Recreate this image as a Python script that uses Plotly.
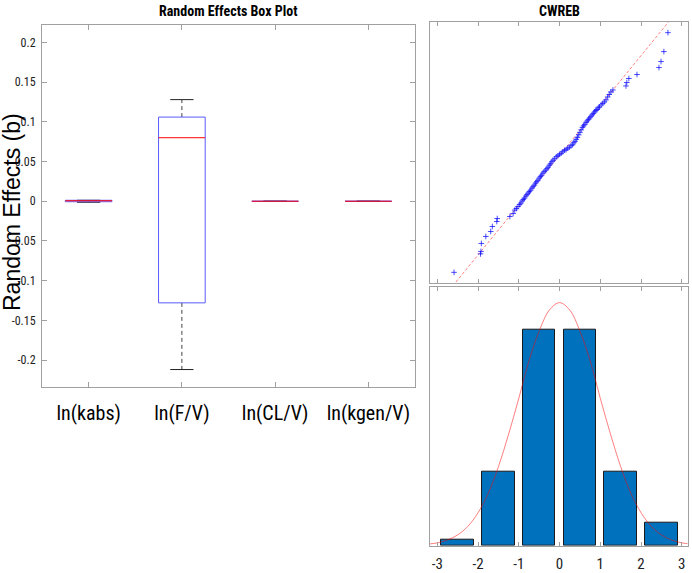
import plotly.graph_objects as go

# box plot summary values
categories = ["ln(kabs)", "ln(F/V)", "ln(CL/V)", "ln(kgen/V)"]
q1 = [-0.0006, -0.128, 0.0, 0.0]
median = [0.0006, 0.080, 0.0, 0.0]
q3 = [0.0012, 0.106, 0.0, 0.0]
whisker_lo = [-0.0013, -0.212, 0.0, 0.0]
whisker_hi = [0.0012, 0.128, 0.0, 0.0]

box_ticks = [-0.2, -0.15, -0.1, -0.05, 0, 0.05, 0.1, 0.15, 0.2]
box_ticktext = ["-0.2", "-0.15", "-0.1", "-0.05", "0", "0.05", "0.1", "0.15", "0.2"]

# CWREB quantile plot points
qq_x = [-2.59, -1.94, -1.93, -1.92, -1.81, -1.69, -1.65, -1.54, -1.53,
        -1.22, -1.14, -1.10, -1.06,
        -1.02, -0.98, -0.95, -0.92, -0.89, -0.86, -0.83, -0.80, -0.77, -0.74, -0.71,
        -0.68, -0.65, -0.62, -0.59, -0.56, -0.53, -0.50, -0.47, -0.44, -0.41, -0.38,
        -0.34, -0.31, -0.28, -0.25, -0.22, -0.19, -0.16, -0.12, -0.08, -0.04, 0.0,
        0.04, 0.08, 0.12, 0.16, 0.20, 0.24, 0.28, 0.32,
        0.35, 0.38, 0.41, 0.44, 0.47, 0.50, 0.53,
        0.56, 0.59, 0.62, 0.65, 0.68, 0.71, 0.74, 0.77, 0.80, 0.83, 0.86, 0.89,
        0.92, 0.95, 0.98, 1.02, 1.06, 1.10, 1.14, 1.18, 1.22, 1.26,
        1.31, 1.63, 1.65, 1.70, 1.90, 2.44, 2.49, 2.56, 2.66]
qq_y = [-2.35, -1.98, -1.93, -1.77, -1.63, -1.53, -1.43, -1.33, -1.27,
        -1.23, -1.17, -1.10, -1.07,
        -1.03, -0.99, -0.96, -0.92, -0.89, -0.86, -0.82, -0.79, -0.76, -0.73, -0.70,
        -0.66, -0.63, -0.60, -0.56, -0.53, -0.50, -0.46, -0.43, -0.40, -0.36, -0.33,
        -0.30, -0.27, -0.24, -0.20, -0.17, -0.13, -0.10, -0.07, -0.03, -0.01, 0.02,
        0.04, 0.07, 0.10, 0.11, 0.14, 0.16, 0.19, 0.21,
        0.25, 0.28, 0.32, 0.36, 0.41, 0.46, 0.51,
        0.56, 0.59, 0.62, 0.66, 0.69, 0.72, 0.75, 0.78, 0.81, 0.84, 0.87, 0.90,
        0.92, 0.95, 0.97, 1.01, 1.04, 1.07, 1.11, 1.17, 1.22, 1.27,
        1.31, 1.39, 1.46, 1.54, 1.62, 1.76, 1.88, 2.08, 2.46]
qq_ref_x = [-2.7, 2.8]
qq_ref_y = [-2.7, 2.8]

# histogram of CWREB
hist_centers = [-2.5, -1.5, -0.5, 0.5, 1.5, 2.5]
hist_counts = [1, 13, 38, 38, 13, 4]
fit_x = [-3.2, -3.0, -2.75, -2.5, -2.25, -2.0, -1.75, -1.5, -1.25, -1.0, -0.75, -0.5, -0.25, 0,
         0.25, 0.5, 0.75, 1.0, 1.25, 1.5, 1.75, 2.0, 2.25, 2.5, 2.75, 3.0, 3.2]
fit_y = [0.3, 0.5, 1.0, 1.9, 3.4, 5.8, 9.2, 13.9, 19.6, 25.9, 32.5, 37.7, 41.4, 42.7,
         41.4, 37.7, 32.5, 25.9, 19.6, 13.9, 9.2, 5.8, 3.4, 1.9, 1.0, 0.5, 0.3]
hist_ticks = [-3, -2, -1, 0, 1, 2, 3]

NARROW = "Liberation Sans Narrow, Arial Narrow, Roboto Condensed, sans-serif"
AXCOL = "#a0a0a0"
W, H = 692, 573
half_box = 0.25
half_cap = 0.125


def px_x(p):
    return p / W


def px_y(p):
    return 1 - p / H


fig = go.Figure()

# whiskers + caps
wx, wy, cx, cy = [], [], [], []
bx, by, mx, my = [], [], [], []
for i in range(len(categories)):
    p = i + 1
    wx += [p, p, None, p, p, None]
    wy += [q3[i], whisker_hi[i], None, q1[i], whisker_lo[i], None]
    cx += [p - half_cap, p + half_cap, None, p - half_cap, p + half_cap, None]
    cy += [whisker_hi[i], whisker_hi[i], None, whisker_lo[i], whisker_lo[i], None]
    bx += [p - half_box, p + half_box, p + half_box, p - half_box, p - half_box, None]
    by += [q1[i], q1[i], q3[i], q3[i], q1[i], None]
    mx += [p - half_box, p + half_box, None]
    my += [median[i], median[i], None]

fig.add_trace(go.Scatter(x=wx, y=wy, mode="lines", line=dict(color="#444444", width=1, dash="4px,3px"),
                         xaxis="x", yaxis="y", hoverinfo="skip"))
fig.add_trace(go.Scatter(x=cx, y=cy, mode="lines", line=dict(color="#222222", width=1),
                         xaxis="x", yaxis="y", hoverinfo="skip"))
fig.add_trace(go.Scatter(x=bx, y=by, mode="lines", line=dict(color="rgb(90,90,255)", width=1),
                         xaxis="x", yaxis="y"))
fig.add_trace(go.Scatter(x=mx, y=my, mode="lines", line=dict(color="red", width=1),
                         xaxis="x", yaxis="y"))

# QQ plot
fig.add_trace(go.Scatter(x=qq_ref_x, y=qq_ref_y, mode="lines",
                         line=dict(color="rgba(255,0,0,0.5)", width=1, dash="3px,2px"),
                         xaxis="x2", yaxis="y2"))
fig.add_trace(go.Scatter(x=qq_x, y=qq_y, mode="markers",
                         marker=dict(symbol="cross-thin", size=4, color="rgba(0,0,255,0.7)",
                                     line=dict(color="rgba(0,0,255,0.7)", width=1)),
                         xaxis="x2", yaxis="y2"))

# histogram with fit
fig.add_trace(go.Bar(x=hist_centers, y=hist_counts, width=0.8,
                     marker=dict(color="#0072BD", line=dict(color="#1a1a1a", width=1)),
                     xaxis="x3", yaxis="y3"))
fig.add_trace(go.Scatter(x=fit_x, y=fit_y, mode="lines", line_shape="spline",
                         line=dict(color="rgba(255,0,0,0.5)", width=1),
                         xaxis="x3", yaxis="y3"))

common = dict(showline=True, linecolor=AXCOL, linewidth=1, mirror="allticks",
              showgrid=False, zeroline=False, ticks="inside", tickcolor=AXCOL,
              automargin=False)

fig.update_layout(
    width=W, height=H,
    margin=dict(l=0, r=0, t=0, b=0),
    paper_bgcolor="white", plot_bgcolor="white",
    showlegend=False,
    bargap=0,
    xaxis=dict(domain=[px_x(42), px_x(415)], anchor="y", range=[0.5, 4.5],
               tickvals=[1, 2, 3, 4], ticktext=categories, ticklen=5,
               tickfont=dict(family=NARROW, size=20, color="black"),
               ticklabelstandoff=8, **common),
    yaxis=dict(domain=[px_y(387), px_y(25)], anchor="x", range=[-0.234, 0.222],
               tickvals=box_ticks, ticktext=box_ticktext, ticklen=5,
               tickfont=dict(family=NARROW, size=12, color="#222222"),
               ticklabelstandoff=3, **common),
    xaxis2=dict(domain=[px_x(430), px_x(687.5)], anchor="y2", range=[-3.18, 3.14],
                tickvals=hist_ticks, showticklabels=False, ticklen=4, **common),
    yaxis2=dict(domain=[px_y(283.3), px_y(21.7)], anchor="x2", range=[-2.57, 2.68],
                showticklabels=False, **{**common, "ticks": ""}),
    xaxis3=dict(domain=[px_x(430), px_x(687.5)], anchor="y3", range=[-3.18, 3.14],
                tickvals=hist_ticks, ticktext=[str(t) for t in hist_ticks], ticklen=4,
                tickfont=dict(family=NARROW, size=15, color="#222222"),
                ticklabelstandoff=4, **common),
    yaxis3=dict(domain=[px_y(545.7), px_y(286.7)], anchor="x3", range=[0, 45.5],
                showticklabels=False, **{**common, "ticks": ""}),
    annotations=[
        dict(text="<b>Random Effects Box Plot</b>", x=px_x(228), y=px_y(11),
             xref="paper", yref="paper", xanchor="center", yanchor="middle",
             showarrow=False, font=dict(family=NARROW, size=14, color="black")),
        dict(text="<b>CWREB</b>", x=px_x(559), y=px_y(11),
             xref="paper", yref="paper", xanchor="center", yanchor="middle",
             showarrow=False, font=dict(family=NARROW, size=14, color="black")),
        dict(text="Random Effects (b)", x=px_x(12), y=px_y(212), textangle=-90,
             xref="paper", yref="paper", xanchor="center", yanchor="middle",
             showarrow=False, font=dict(family="Liberation Sans, Arial, sans-serif", size=23, color="black")),
    ],
)

# drop the browser's default body margin so the figure fills the window
fig.write_html("out.html", config={"displayModeBar": False},
               post_script="document.body.style.margin='0';")
